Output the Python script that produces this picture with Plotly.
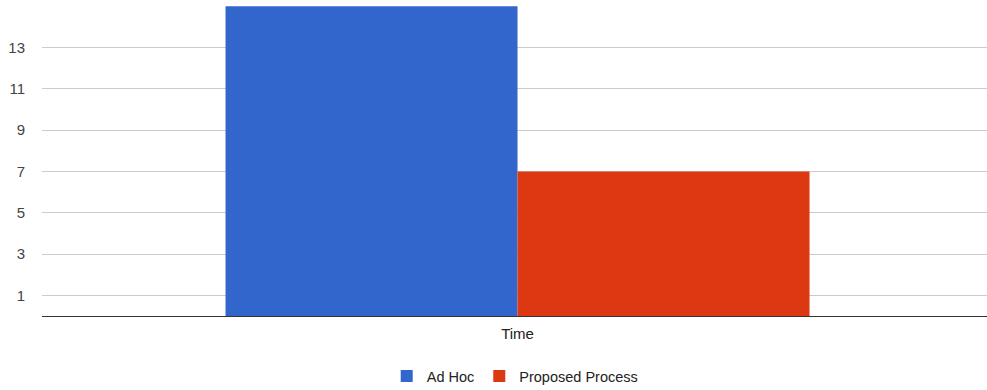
import plotly.graph_objects as go

categories = ["Time"]
ad_hoc = [15]
proposed = [7]
y_ticks = [1, 3, 5, 7, 9, 11, 13]

FONT = "Liberation Sans, Arial, sans-serif"

fig = go.Figure()
fig.add_trace(go.Bar(name="Ad Hoc", x=categories, y=ad_hoc,
                     marker=dict(color="#3366cc", line=dict(width=0))))
fig.add_trace(go.Bar(name="Proposed Process", x=categories, y=proposed,
                     marker=dict(color="#dc3912", line=dict(width=0))))

fig.update_layout(
    width=987, height=390,
    margin=dict(l=42, r=0, t=0, b=74, autoexpand=False),
    paper_bgcolor="white", plot_bgcolor="white",
    barmode="group", bargap=0.382, bargroupgap=0,
    font=dict(family=FONT, size=15, color="#222222"),
    showlegend=True,
    legend=dict(orientation="h", x=0.522, xanchor="center", xref="container",
                y=14 / 390, yanchor="middle", yref="container",
                font=dict(size=14.5, color="#222222"), itemwidth=30,
                traceorder="normal"),
)
fig.update_xaxes(automargin=False, range=[-0.5032, 0.4968], showgrid=False,
                 showline=True, linecolor="#333333", linewidth=1,
                 ticks="outside", ticklen=4, tickcolor="rgba(0,0,0,0)",
                 tickfont=dict(size=15, color="#222222"))
fig.update_yaxes(automargin=False, range=[0, 15.3], tickvals=y_ticks,
                 showgrid=True, gridcolor="#cccccc", gridwidth=1, zeroline=False,
                 showline=False, ticks="outside", ticklen=13,
                 tickcolor="rgba(0,0,0,0)",
                 tickfont=dict(size=15, color="#444444"))

fig.write_html("out.html")
